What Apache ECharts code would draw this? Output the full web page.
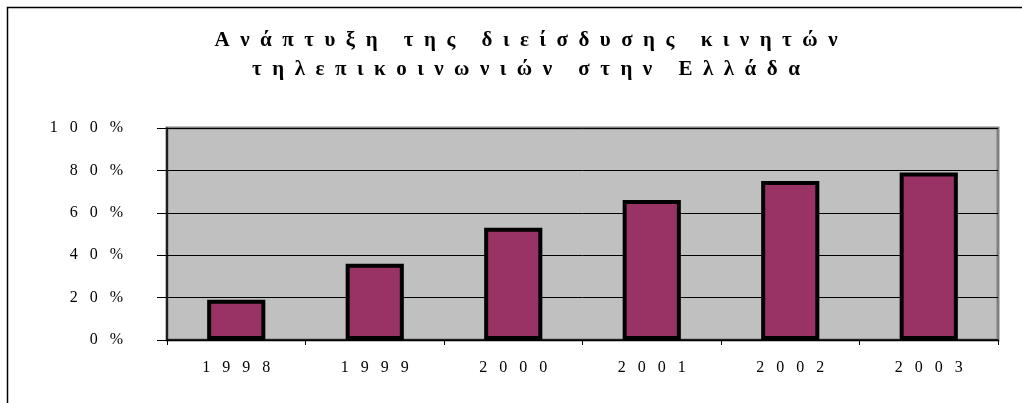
<!DOCTYPE html>
<html><head><meta charset="utf-8">
<script src="https://cdn.jsdelivr.net/npm/echarts@6/dist/echarts.min.js"></script>
<style>html,body{margin:0;padding:0;background:#fff}#c{width:1022px;height:403px}</style>
</head><body><div id="c"></div>
<script>
var titleLines = ["Ανάπτυξη της διείσδυσης κινητών", "τηλεπικοινωνιών στην Ελλάδα"];
var categories = ["1998", "1999", "2000", "2001", "2002", "2003"];
var values = [0.19, 0.36, 0.53, 0.66, 0.75, 0.79];

function spaced(str, gap, wordGap) {
  return str.split(" ").map(function (w) { return Array.from(w).join(gap); }).join(wordGap);
}
var chart = echarts.init(document.getElementById('c'));
var serif = '"Liberation Serif", "DejaVu Serif", serif';
chart.setOption({
  backgroundColor: '#ffffff',
  animation: false,
  graphic: [{
    type: 'rect', shape: {x: 7.5, y: 7.5, width: 1100, height: 500},
    style: {fill: 'none', stroke: '#000', lineWidth: 1.5}, z: -1
  }],
  title: {
    text: titleLines.map(function (l) { return spaced(l, '  ', '     '); }).join('\n'),
    left: 521, top: 21, textAlign: 'center',
    textStyle: {fontFamily: serif, fontWeight: 'bold', fontSize: 21, lineHeight: 29, color: '#000'}
  },
  grid: {left: 167, right: 24, top: 128, bottom: 63, show: true,
    backgroundColor: '#C0C0C0', borderColor: '#808080', borderWidth: 3},
  xAxis: {
    type: 'category', data: categories,
    axisLine: {lineStyle: {color: '#000', width: 1.5}},
    axisTick: {show: true, length: 5, lineStyle: {color: '#000'}},
    axisLabel: {margin: 20, color: '#000', fontFamily: serif, fontSize: 16,
      formatter: function (v) { return spaced(v, '   ', ' '); }}
  },
  yAxis: {
    type: 'value', min: 0, max: 1, interval: 0.2,
    axisLine: {show: true, lineStyle: {color: '#000', width: 1.5}},
    axisTick: {show: true, length: 10, lineStyle: {color: '#000'}},
    splitLine: {lineStyle: {color: '#000', width: 1}},
    axisLabel: {margin: 44, color: '#000', fontFamily: serif, fontSize: 16,
      formatter: function (v) { return spaced(String(Math.round(v * 100)) + '%', '   ', ' '); }}
  },
  series: [{
    type: 'bar', data: values, barWidth: '42%',
    itemStyle: {color: '#993366', borderColor: '#000', borderWidth: 4}
  }]
});
</script></body></html>
